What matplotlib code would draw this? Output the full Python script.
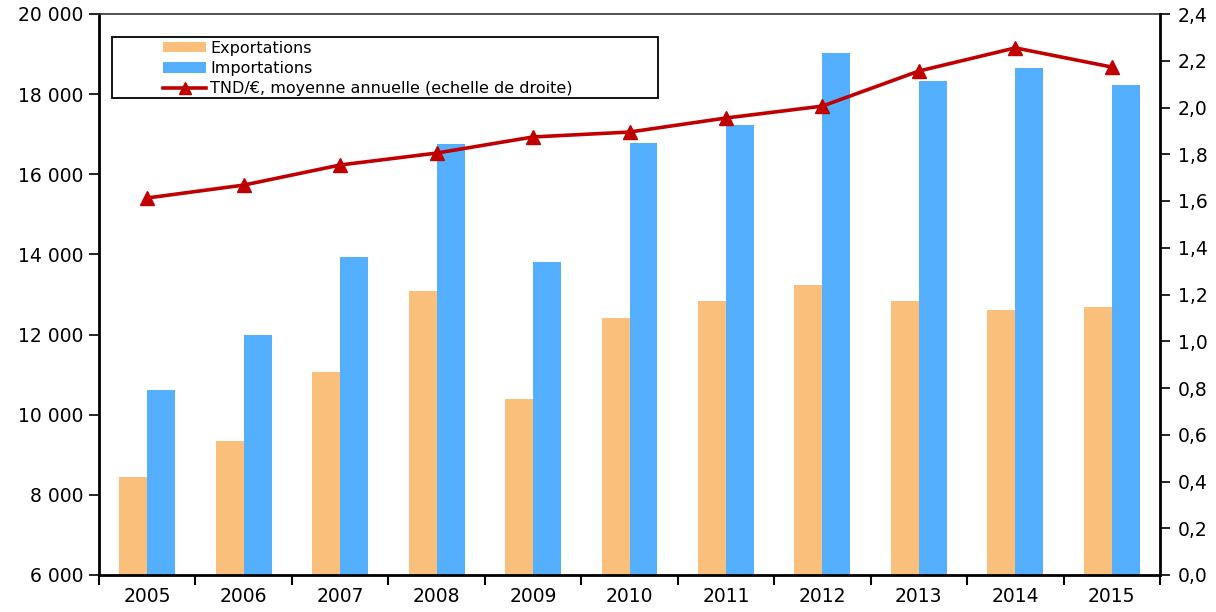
import matplotlib
matplotlib.use("Agg")
import matplotlib.pyplot as plt
from matplotlib.patches import Rectangle
from matplotlib.lines import Line2D
from matplotlib.patches import Patch
import numpy as np

# Data
years = ["2005", "2006", "2007", "2008", "2009", "2010",
         "2011", "2012", "2013", "2014", "2015"]
exportations = [8450, 9340, 11070, 13090, 10380, 12410,
                12830, 13240, 12850, 12610, 12690]
importations = [10610, 11990, 13940, 16760, 13810, 16780,
                17230, 19030, 18330, 18650, 18230]
tnd_eur = [1.613, 1.668, 1.754, 1.805, 1.874, 1.895,
           1.955, 2.006, 2.156, 2.255, 2.173]

left_ticks = [6000, 8000, 10000, 12000, 14000, 16000, 18000, 20000]
left_labels = ["6 000", "8 000", "10 000", "12 000", "14 000",
               "16 000", "18 000", "20 000"]
right_ticks = [0.0, 0.2, 0.4, 0.6, 0.8, 1.0, 1.2, 1.4, 1.6, 1.8, 2.0, 2.2, 2.4]
right_labels = ["0,0", "0,2", "0,4", "0,6", "0,8", "1,0", "1,2", "1,4",
                "1,6", "1,8", "2,0", "2,2", "2,4"]

label_exp = "Exportations"
label_imp = "Importations"
label_tnd = "TND/€, moyenne annuelle (echelle de droite)"

c_exp = "#FAC07B"
c_imp = "#55AFFF"
c_line = "#C00000"

plt.rcParams["font.family"] = ["DejaVu Sans"]

W, H = 1216, 612
fig = plt.figure(figsize=(W / 100, H / 100), dpi=100)
ax = fig.add_axes([99 / W, 1 - 575 / H, (1160 - 99) / W, (575 - 14) / H])

x = np.arange(len(years))
bw = 0.29
ax.bar(x - bw / 2, [v - 6000 for v in exportations], bw, bottom=6000,
       color=c_exp, edgecolor="none", zorder=2)
ax.bar(x + bw / 2, [v - 6000 for v in importations], bw, bottom=6000,
       color=c_imp, edgecolor="none", zorder=2)

ax.set_xlim(-0.5, len(years) - 0.5)
ax.set_ylim(6000, 20000)
ax.set_yticks(left_ticks)
ax.set_yticklabels(left_labels, fontsize=13.5)

# category labels centred, ticks on category boundaries
ax.set_xticks(x)
ax.set_xticklabels(years, fontsize=13.5)
ax.tick_params(axis="x", which="major", length=0, pad=9)
ax.set_xticks(np.arange(-0.5, len(years)), minor=True)
ax.tick_params(axis="x", which="minor", length=7, width=1.5, direction="out")
ax.tick_params(axis="y", length=7, width=1.2, direction="out", pad=4)

for s in ["left", "bottom"]:
    ax.spines[s].set_linewidth(2)
ax.spines["right"].set_visible(False)
ax.spines["top"].set_linewidth(1.2)
ax.spines["top"].set_color("#333333")

ax2 = ax.twinx()
ax2.plot(x, tnd_eur, color=c_line, lw=2.6, marker="^", markersize=10,
         markerfacecolor=c_line, markeredgecolor=c_line, zorder=5)
ax2.set_ylim(0, 2.4)
ax2.set_yticks(right_ticks)
ax2.set_yticklabels(right_labels, fontsize=13.5)
ax2.tick_params(axis="y", length=7, width=1.2, direction="out", pad=6)
ax2.spines["right"].set_linewidth(2)
for s in ["left", "bottom", "top"]:
    ax2.spines[s].set_visible(False)

# legend with its own rectangular frame
fig.patches.append(Rectangle((112 / W, 1 - 98 / H), (658 - 112) / W, (98 - 37) / H,
                             transform=fig.transFigure, fill=False,
                             edgecolor="black", linewidth=1.3, zorder=10))
handles = [Patch(facecolor=c_exp, edgecolor="none"),
           Patch(facecolor=c_imp, edgecolor="none"),
           Line2D([], [], color=c_line, lw=2.6, marker="^", markersize=9)]
leg = fig.legend(handles, [label_exp, label_imp, label_tnd],
                 loc="upper left", bbox_to_anchor=(155 / W, 1 - 33 / H),
                 frameon=False, fontsize=11.5, handlelength=2.7,
                 handleheight=0.6, handletextpad=0.25, labelspacing=0.32,
                 borderpad=0.0)

fig.savefig("out.png", dpi=100)
